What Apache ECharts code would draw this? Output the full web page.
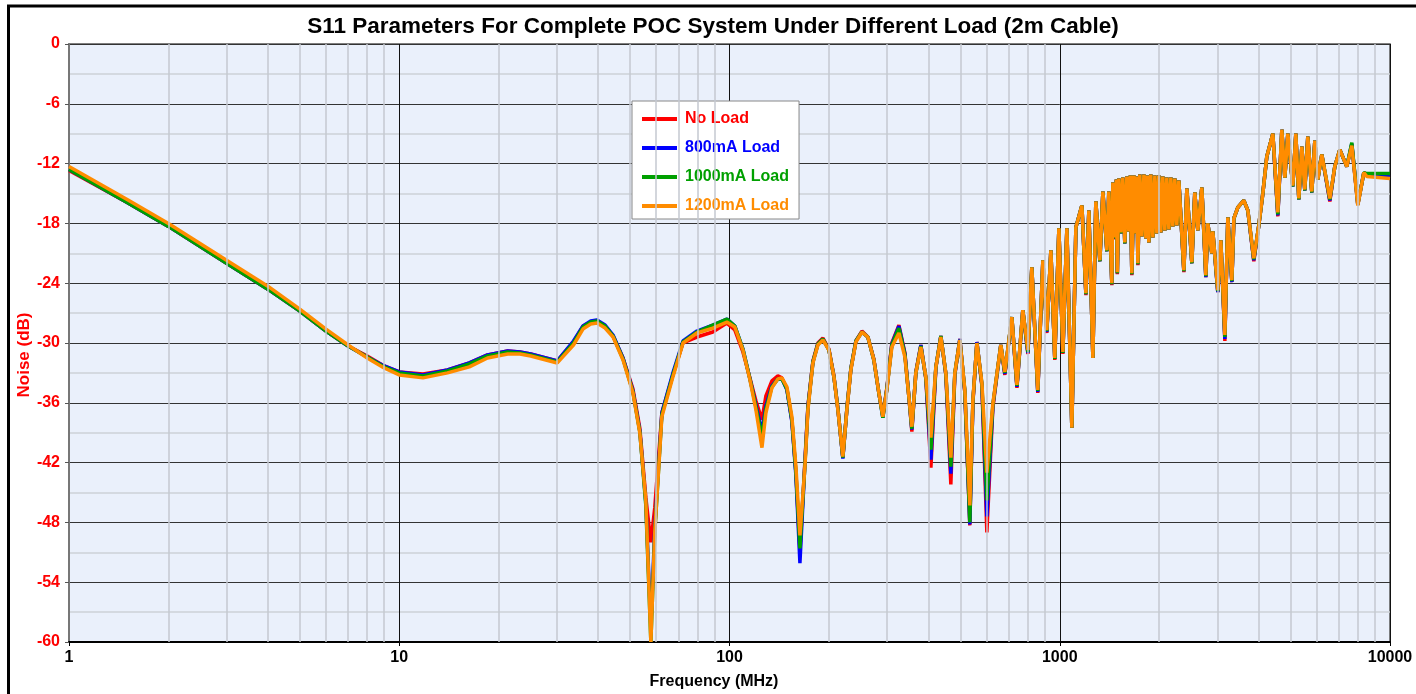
<!DOCTYPE html>
<html lang="en">
<head>
    <meta charset="UTF-8">
    <title>S11 Parameters</title>
    <script src="https://cdn.jsdelivr.net/npm/echarts/dist/echarts.min.js"></script>
    <style>
        html, body { margin: 0; padding: 0; background: #fff; }
        #main { width: 1416px; height: 694px; }
    </style>
</head>
<body>
<div id="main"></div>
<script>
    // frequency points (MHz)
    var freq = [
        1, 1.5, 2, 3, 4, 5, 6, 7, 8, 9, 10, 11.8, 14, 16.3, 18.5, 21.3, 23.2, 25, 30.1, 33.7, 36, 38, 39.7, 42,
        44.4, 47.6, 51.0, 53.5, 55.8, 57.8, 59.4, 62.4, 67.4, 72.3, 79.7, 89.0, 98.2, 103.8, 109.8, 115.3, 120.2, 125.4, 128.9, 134.4,
        140.1, 144.1, 149.2, 154.5, 158.9, 163.4, 169.2, 172.8, 178.9, 185.2, 191.8, 200, 207.1, 212.9, 220.4, 226.7, 233.1, 241.4, 251.7, 262.4,
        273.6, 283.3, 291.3, 299.6, 310.2, 325.8, 339.7, 349.3, 356.6, 366.7, 379.7, 393.2, 407.2, 421.6, 436.5, 452.0, 468.0, 481.2, 498.3, 516.0,
        534.2, 545.8, 561.2, 581.1, 601.6, 627.3, 663, 682, 716, 742, 773, 801, 823, 858, 889, 914, 940, 966, 994, 1022,
        1051, 1088, 1119, 1167, 1200, 1225, 1260, 1286, 1323, 1351, 1389, 1408, 1438, 1448, 1468, 1484, 1494, 1510, 1531, 1552,
        1574, 1596, 1619, 1636, 1653, 1677, 1700, 1712, 1724, 1748, 1773, 1798, 1823, 1842, 1861, 1887, 1914, 1941, 1968, 1995,
        2023, 2052, 2081, 2110, 2140, 2170, 2200, 2231, 2262, 2294, 2376, 2426, 2512, 2564, 2619, 2693, 2769, 2808, 2887, 2907,
        3010, 3074, 3162, 3228, 3320, 3367, 3462, 3609, 3711, 3869, 4006, 4120, 4236, 4418, 4575, 4704, 4803, 4905, 5079, 5186,
        5296, 5408, 5521, 5638, 5798, 5921, 6045, 6216, 6574, 6806, 7047, 7399, 7662, 7990, 8332, 8508, 10000
    ];

    var noLoad = [
        -12.7, -15.9, -18.3, -22.0, -24.6, -26.8, -28.8, -30.3, -31.3, -32.3, -32.9, -33.1, -32.7, -32.0, -31.2, -30.8, -30.9, -31.1, -31.8, -29.9, -28.3, -27.9, -27.8, -28.3,
        -29.3, -31.5, -34.6, -38.5, -45.5, -50.0, -46.5, -37.0, -33.2, -30.0, -29.4, -28.9, -28.0, -28.7, -30.9, -33.5, -35.8, -37.7, -35.3, -33.8,
        -33.3, -33.5, -34.6, -37.8, -43.0, -51.0, -41.8, -36.3, -31.8, -30.0, -29.5, -30.6, -33.3, -36.6, -41.5, -36.6, -32.6, -29.8, -28.8, -29.4,
        -31.6, -35.0, -37.3, -34.5, -30.0, -28.2, -31.0, -35.4, -38.9, -32.9, -30.2, -33.6, -42.5, -32.5, -29.3, -33.2, -44.2, -33.2, -29.6, -35.0,
        -48.3, -36.0, -29.9, -34.3, -49.0, -36.5, -30.2, -33.2, -27.4, -34.5, -26.7, -31.1, -22.4, -35.0, -21.7, -29.0, -20.7, -31.7, -18.5, -31.1,
        -18.5, -38.5, -18.4, -16.2, -25.2, -16.7, -31.5, -15.8, -21.8, -14.8, -20.8, -14.8, -24.2, -13.9, -19.6, -13.6, -23.1, -13.5, -19.0, -13.4,
        -20.0, -13.3, -18.8, -13.2, -23.2, -13.2, -19.0, -13.3, -22.2, -13.1, -19.3, -13.1, -19.5, -13.2, -19.9, -13.1, -19.4, -13.2, -19.0, -13.2,
        -18.9, -13.3, -18.7, -13.4, -18.6, -13.4, -18.3, -13.5, -18.2, -13.7, -22.9, -14.5, -22.0, -14.9, -18.7, -14.4, -23.4, -18.0, -21.0, -18.8,
        -24.9, -19.7, -29.8, -17.4, -23.9, -17.5, -16.4, -15.7, -16.7, -21.8, -18.2, -15.0, -11.3, -9.0, -17.3, -8.6, -13.4, -9.0, -14.3, -9.0,
        -15.6, -10.3, -14.7, -9.3, -14.9, -9.7, -13.6, -11.1, -15.8, -12.3, -10.6, -12.3, -10.1, -16.1, -12.9, -13.2, -13.3
    ];

    var load800 = [
        -12.6, -15.9, -18.3, -22.0, -24.6, -26.8, -28.8, -30.3, -31.4, -32.3, -32.9, -33.2, -32.7, -32.0, -31.2, -30.8, -30.9, -31.1, -31.8, -29.8, -28.3, -27.8, -27.7, -28.2,
        -29.2, -31.5, -34.8, -38.8, -46.0, -58.5, -48.5, -37.0, -33.0, -29.8, -28.8, -28.2, -27.6, -28.3, -30.6, -33.6, -36.2, -38.9, -36.3, -34.3,
        -33.6, -33.6, -34.7, -37.9, -43.3, -52.1, -42.0, -36.4, -31.9, -30.1, -29.6, -30.7, -33.4, -36.6, -41.6, -36.6, -32.6, -29.8, -28.9, -29.4,
        -31.7, -35.0, -37.5, -34.6, -30.1, -28.3, -31.1, -35.4, -38.7, -33.0, -30.2, -33.5, -41.7, -32.4, -29.3, -33.1, -43.1, -33.1, -29.6, -34.9,
        -48.2, -35.9, -29.9, -34.2, -47.4, -36.3, -30.2, -33.1, -27.4, -34.4, -26.7, -31.0, -22.4, -34.9, -21.7, -28.9, -20.7, -31.6, -18.5, -31.0,
        -18.5, -38.5, -18.4, -16.2, -25.1, -16.7, -31.5, -15.8, -21.8, -14.8, -20.8, -14.8, -24.1, -13.9, -19.5, -13.6, -23.0, -13.5, -19.0, -13.4,
        -20.0, -13.3, -18.8, -13.2, -23.1, -13.2, -19.0, -13.3, -22.1, -13.1, -19.3, -13.1, -19.5, -13.2, -19.9, -13.1, -19.4, -13.2, -19.0, -13.2,
        -18.9, -13.3, -18.7, -13.4, -18.6, -13.4, -18.3, -13.5, -18.2, -13.7, -22.8, -14.5, -22.0, -14.9, -18.7, -14.4, -23.4, -18.0, -21.0, -18.8,
        -24.9, -19.7, -29.6, -17.4, -23.9, -17.5, -16.4, -15.7, -16.7, -21.7, -18.2, -15.0, -11.3, -9.0, -17.2, -8.6, -13.4, -9.0, -14.3, -9.0,
        -15.6, -10.3, -14.7, -9.3, -14.9, -9.7, -13.6, -11.1, -15.7, -12.3, -10.6, -12.3, -10.0, -16.1, -12.9, -13.2, -13.3
    ];

    var load1000 = [
        -12.6, -15.9, -18.3, -22.0, -24.6, -26.8, -28.8, -30.3, -31.4, -32.4, -33.0, -33.3, -32.8, -32.1, -31.3, -30.9, -31.0, -31.2, -31.9, -30.0, -28.4, -27.9, -27.8, -28.3,
        -29.3, -31.6, -34.9, -38.9, -46.3, -60.0, -49.0, -37.2, -33.2, -29.9, -28.9, -28.2, -27.6, -28.3, -30.6, -33.6, -36.4, -39.4, -36.6, -34.4,
        -33.6, -33.6, -34.6, -37.7, -43.0, -50.6, -42.2, -36.5, -31.9, -30.1, -29.6, -30.7, -33.4, -36.6, -41.5, -36.6, -32.6, -29.8, -28.9, -29.4,
        -31.7, -35.0, -37.5, -34.6, -30.2, -28.5, -31.2, -35.4, -38.6, -33.0, -30.3, -33.5, -40.7, -32.4, -29.3, -33.1, -42.4, -33.0, -29.7, -34.8,
        -48.0, -35.8, -30.0, -34.1, -45.8, -36.2, -30.2, -33.0, -27.4, -34.3, -26.7, -30.9, -22.4, -34.8, -21.7, -28.8, -20.7, -31.6, -18.5, -31.0,
        -18.5, -38.5, -18.4, -16.2, -25.1, -16.7, -31.5, -15.8, -21.8, -14.8, -20.8, -14.8, -24.1, -13.9, -19.5, -13.6, -23.0, -13.5, -19.0, -13.4,
        -20.0, -13.3, -18.8, -13.2, -23.1, -13.2, -19.0, -13.3, -22.1, -13.1, -19.3, -13.1, -19.5, -13.2, -19.9, -13.1, -19.4, -13.2, -19.0, -13.2,
        -18.9, -13.3, -18.7, -13.4, -18.6, -13.4, -18.3, -13.5, -18.2, -13.7, -22.8, -14.5, -22.0, -14.9, -18.7, -14.4, -23.3, -18.0, -21.0, -18.8,
        -24.8, -19.7, -29.4, -17.4, -23.8, -17.5, -16.4, -15.7, -16.7, -21.6, -18.2, -15.0, -11.3, -9.0, -17.1, -8.6, -13.4, -9.0, -14.3, -9.0,
        -15.6, -10.3, -14.7, -9.3, -14.9, -9.7, -13.6, -11.1, -15.6, -12.3, -10.6, -12.3, -9.9, -16.1, -12.9, -13.0, -13.0
    ];

    var load1200 = [
        -12.3, -15.6, -18.0, -21.7, -24.3, -26.6, -28.6, -30.2, -31.5, -32.5, -33.2, -33.5, -33.0, -32.4, -31.5, -31.1, -31.1, -31.3, -32.0, -30.2, -28.6, -28.1, -28.0, -28.5,
        -29.4, -31.7, -35.0, -39.0, -45.8, -60.0, -49.0, -37.4, -33.4, -30.0, -29.0, -28.5, -27.9, -28.4, -30.7, -33.7, -36.7, -40.5, -37.0, -34.5,
        -33.6, -33.5, -34.4, -37.4, -42.4, -49.3, -42.4, -36.7, -32.0, -30.2, -29.7, -30.7, -33.4, -36.7, -41.4, -36.7, -32.7, -29.9, -28.9, -29.4,
        -31.7, -35.0, -37.4, -34.7, -30.4, -29.0, -31.4, -35.4, -38.4, -33.0, -30.4, -33.4, -39.5, -32.4, -29.4, -33.0, -41.5, -33.0, -29.7, -34.7,
        -46.3, -35.7, -30.0, -34.0, -43.0, -36.1, -30.2, -32.9, -27.4, -34.2, -26.7, -30.7, -22.4, -34.7, -21.7, -28.7, -20.7, -31.5, -18.5, -30.9,
        -18.5, -38.5, -18.4, -16.2, -25.0, -16.7, -31.5, -15.8, -21.7, -14.8, -20.7, -14.8, -24.0, -13.9, -19.4, -13.6, -22.9, -13.5, -18.9, -13.4,
        -19.9, -13.3, -18.8, -13.2, -23.0, -13.2, -19.0, -13.3, -22.0, -13.1, -19.3, -13.1, -19.5, -13.2, -19.9, -13.1, -19.4, -13.2, -19.0, -13.2,
        -18.9, -13.3, -18.7, -13.4, -18.6, -13.4, -18.3, -13.5, -18.2, -13.7, -22.7, -14.5, -21.9, -14.9, -18.7, -14.4, -23.2, -18.0, -21.0, -18.8,
        -24.7, -19.7, -29.2, -17.4, -23.7, -17.5, -16.4, -15.7, -16.7, -21.5, -18.2, -15.0, -11.3, -9.0, -16.9, -8.6, -13.4, -9.0, -14.2, -9.0,
        -15.5, -10.3, -14.6, -9.3, -14.8, -9.7, -13.6, -11.1, -15.5, -12.3, -10.6, -12.3, -10.2, -16.2, -12.9, -13.3, -13.5
    ];

    // light vertical grid lines inside each decade
    var minorTicks = [2, 3, 4, 5, 6, 7, 8, 9, 20, 30, 40, 50, 60, 70, 80, 90,
        200, 300, 400, 500, 600, 700, 800, 900, 2000, 3000, 4000, 5000, 6000, 7000, 8000, 9000];

    var seriesNames = ['No Load', '800mA Load', '1000mA Load', '1200mA Load'];
    var seriesColors = ['#ff0000', '#0000ff', '#00a000', '#ff8c00'];
    var seriesValues = [noLoad, load800, load1000, load1200];

    var font = 'Liberation Sans, Arial, sans-serif';

    function pairs(values) {
        return freq.map(function (f, i) { return [f, values[i]]; });
    }

    var series = [{
        name: 'grid',
        type: 'line',
        z: 1,
        silent: true,
        symbol: 'none',
        lineStyle: { opacity: 0 },
        data: [[1, -60]],
        markLine: {
            silent: true,
            symbol: 'none',
            animation: false,
            label: { show: false },
            lineStyle: { color: '#c5c9d0', width: 1.5, type: 'solid' },
            data: minorTicks.map(function (v) { return { xAxis: v }; })
        }
    }];

    seriesNames.forEach(function (name, i) {
        series.push({
            name: name,
            type: 'line',
            z: 3,
            symbol: 'none',
            showSymbol: false,
            color: seriesColors[i],
            lineStyle: { width: 3.5, color: seriesColors[i] },
            data: pairs(seriesValues[i])
        });
    });

    var chart = echarts.init(document.getElementById('main'));
    chart.setOption({
        animation: false,
        backgroundColor: '#ffffff',
        grid: {
            left: 69, top: 44, right: 26, bottom: 52,
            show: true,
            backgroundColor: '#eaf0fb',
            borderColor: '#555',
            borderWidth: 1.5
        },
        legend: {
            data: seriesNames.map(function (n, i) {
                return { name: n, textStyle: { color: seriesColors[i] } };
            }),
            orient: 'vertical',
            left: 632,
            top: 101,
            backgroundColor: '#ffffff',
            borderColor: '#888',
            borderWidth: 1,
            padding: [9, 10, 4, 8],
            itemWidth: 35,
            itemHeight: 4,
            itemGap: 11,
            itemStyle: { opacity: 0 },
            lineStyle: { width: 4 },
            textStyle: {
                fontFamily: font, fontWeight: 'bold', fontSize: 16,
                lineHeight: 18, padding: [0, 0, 0, 3]
            }
        },
        xAxis: {
            type: 'log',
            logBase: 10,
            min: 1,
            max: 10000,
            axisLine: { show: true, onZero: false, lineStyle: { color: '#000', width: 2 } },
            axisTick: { show: true, length: 4, lineStyle: { color: '#000' } },
            axisLabel: {
                color: '#000', fontFamily: font, fontWeight: 'bold', fontSize: 16, margin: 8,
                formatter: function (v) { return String(Math.round(v)); }
            },
            splitLine: { show: true, lineStyle: { color: '#111', width: 1 } }
        },
        yAxis: {
            type: 'value',
            min: -60,
            max: 0,
            interval: 6,
            axisLine: { show: true, lineStyle: { color: '#777', width: 2 } },
            axisTick: { show: true, length: 4, lineStyle: { color: '#555' } },
            axisLabel: { color: '#ff0000', fontFamily: font, fontWeight: 'bold', fontSize: 16, margin: 9 },
            splitLine: { show: true, lineStyle: { color: '#333', width: 1 } },
            minorTick: { show: false, splitNumber: 2 },
            minorSplitLine: { show: true, lineStyle: { color: '#cdd1d8', width: 1.5 } }
        },
        graphic: [
            {
                type: 'rect',
                silent: true,
                shape: { x: 8.5, y: 6, width: 1440, height: 720 },
                style: { fill: 'none', stroke: '#000', lineWidth: 3 }
            },
            {
                type: 'text',
                x: 713, y: 27,
                style: {
                    text: 'S11 Parameters For Complete POC System Under Different Load (2m Cable)',
                    font: 'bold 22.5px ' + font, fill: '#000',
                    textAlign: 'center', textVerticalAlign: 'middle'
                }
            },
            {
                type: 'text',
                x: 714, y: 682,
                style: {
                    text: 'Frequency (MHz)',
                    font: 'bold 16px ' + font, fill: '#000',
                    textAlign: 'center', textVerticalAlign: 'middle'
                }
            },
            {
                type: 'text',
                x: 24, y: 355,
                rotation: Math.PI / 2,
                style: {
                    text: 'Noise (dB)',
                    font: 'bold 17px ' + font, fill: '#ff0000',
                    textAlign: 'center', textVerticalAlign: 'middle'
                }
            }
        ],
        series: series
    });
</script>
</body>
</html>
